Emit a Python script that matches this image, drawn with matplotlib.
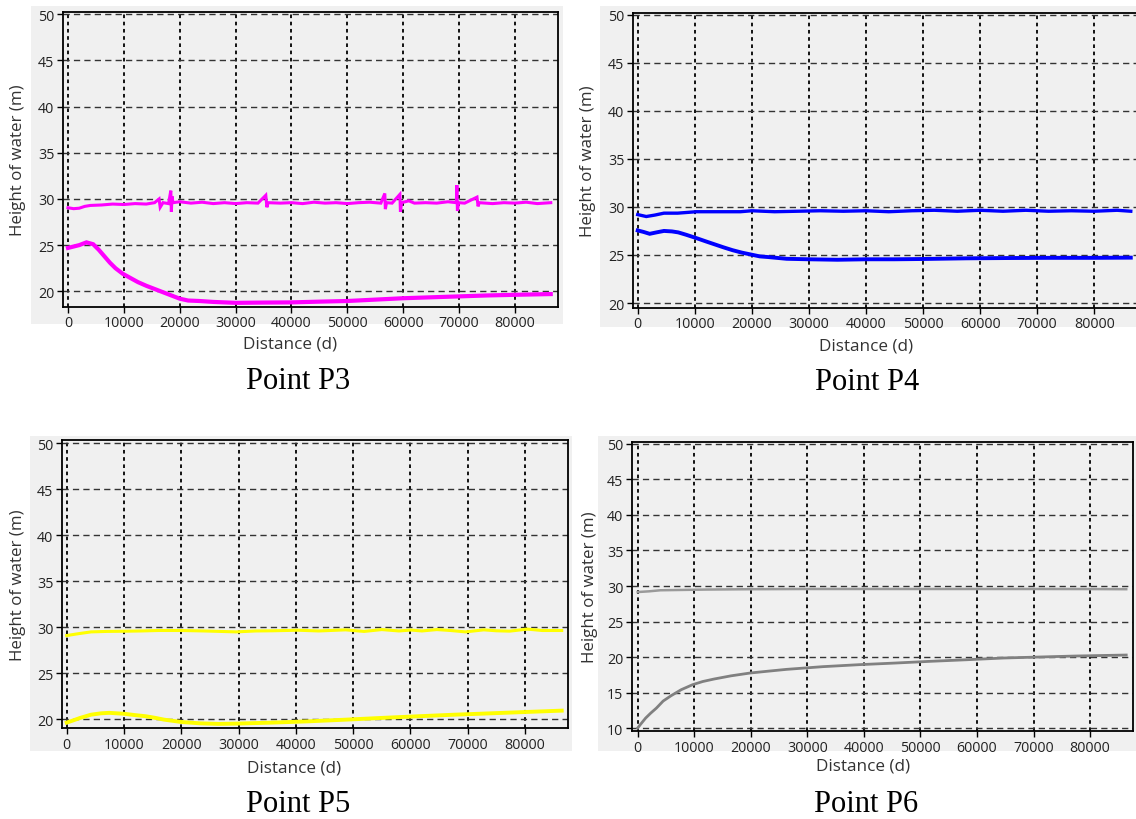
import matplotlib
matplotlib.use("Agg")
import matplotlib.pyplot as plt
from matplotlib.patches import Rectangle

W, H = 1136, 820
DPI = 100

# ---- water height records (distance, height in m) ----
p3_upper = [(0, 29.05), (1000, 28.95), (2000, 29.0), (3000, 29.2), (4000, 29.3),
            (6000, 29.35), (8000, 29.45), (10000, 29.4), (12000, 29.5), (14000, 29.45),
            (15500, 29.6), (16300, 30.0), (16500, 29.1), (17000, 29.6), (18000, 29.5),
            (18400, 30.9), (18500, 28.6), (18600, 30.3), (18800, 29.6), (20000, 29.7),
            (22000, 29.55), (24000, 29.65), (26000, 29.5), (28000, 29.6), (30000, 29.5),
            (32000, 29.6), (34000, 29.55), (35400, 30.4), (35600, 29.1), (35800, 29.6),
            (38000, 29.55), (40000, 29.6), (42000, 29.5), (44000, 29.65), (46000, 29.55),
            (48000, 29.6), (50000, 29.5), (52000, 29.6), (54000, 29.65), (56000, 29.55),
            (56700, 30.6), (56800, 28.9), (57000, 29.6), (58000, 29.55), (59400, 30.5),
            (59500, 28.6), (59700, 29.6), (61000, 29.8), (62000, 29.55), (64000, 29.6),
            (66000, 29.55), (68000, 29.7), (69500, 29.6), (69600, 31.5), (69700, 28.7),
            (69900, 29.6), (71000, 29.55), (73200, 30.2), (73400, 29.2), (73600, 29.6),
            (76000, 29.5), (78000, 29.6), (80000, 29.55), (82000, 29.65), (84000, 29.5),
            (86400, 29.6)]
p3_lower = [(0, 24.7), (1000, 24.85), (2000, 25.0), (3300, 25.3), (4500, 25.1),
            (5500, 24.5), (6500, 23.8), (7500, 23.1), (8500, 22.5), (9800, 21.9),
            (11000, 21.5), (12500, 21.0), (14000, 20.6), (15500, 20.25), (17000, 19.9),
            (18500, 19.55), (20000, 19.2), (21500, 19.0), (23500, 18.95), (26000, 18.85),
            (30000, 18.75), (35000, 18.78), (40000, 18.8), (45000, 18.88), (50000, 18.95),
            (55000, 19.1), (60000, 19.25), (65000, 19.35), (70000, 19.45), (75000, 19.55),
            (80000, 19.62), (86400, 19.7)]

p4_upper = [(0, 29.2), (1500, 29.0), (3000, 29.15), (4600, 29.35), (7000, 29.35),
            (10300, 29.5), (14000, 29.5), (18000, 29.5), (20000, 29.6), (24000, 29.5),
            (28000, 29.55), (32000, 29.6), (36000, 29.55), (40000, 29.6), (44000, 29.5),
            (48000, 29.6), (52000, 29.65), (56000, 29.55), (60000, 29.65), (64000, 29.55),
            (68000, 29.65), (72000, 29.55), (76000, 29.6), (80000, 29.55), (84000, 29.65),
            (86400, 29.55)]
p4_lower = [(0, 27.55), (1000, 27.4), (2100, 27.2), (3300, 27.35), (4600, 27.5),
            (6000, 27.45), (7100, 27.35), (8500, 27.1), (10300, 26.75), (12000, 26.4),
            (13500, 26.1), (15000, 25.8), (16600, 25.5), (18200, 25.25), (19800, 25.05),
            (21400, 24.85), (22900, 24.78), (26100, 24.6), (30000, 24.55), (35000, 24.5),
            (40000, 24.55), (45000, 24.55), (50000, 24.58), (57700, 24.65), (65000, 24.68),
            (72000, 24.7), (80000, 24.7), (86400, 24.72)]

p5_upper = [(0, 29.1), (2000, 29.3), (4250, 29.5), (7000, 29.55), (10000, 29.57),
            (13000, 29.6), (16000, 29.65), (20000, 29.65), (24000, 29.6), (29600, 29.5),
            (33000, 29.6), (36000, 29.62), (40400, 29.68), (44000, 29.6), (48700, 29.72),
            (51900, 29.55), (55000, 29.75), (58000, 29.6), (60100, 29.7), (62000, 29.6),
            (64600, 29.75), (67000, 29.65), (69600, 29.5), (72800, 29.72), (75000, 29.62),
            (77300, 29.58), (80400, 29.8), (83000, 29.65), (86400, 29.65)]
p5_lower = [(0, 19.64), (1000, 19.85), (2350, 20.15), (4250, 20.5), (6000, 20.65),
            (7400, 20.7), (10000, 20.6), (12000, 20.45), (13800, 20.33), (15500, 20.15),
            (17000, 19.96), (20100, 19.7), (23300, 19.56), (26500, 19.5), (29600, 19.53),
            (36000, 19.64), (42300, 19.78), (48700, 19.96), (55000, 20.15), (61400, 20.33),
            (67700, 20.5), (74100, 20.65), (80400, 20.8), (86400, 20.94)]

p6_upper = [(0, 29.15), (2000, 29.25), (4000, 29.4), (8000, 29.45), (12000, 29.5),
            (20000, 29.55), (30000, 29.58), (40000, 29.58), (50000, 29.58), (60000, 29.58),
            (70000, 29.58), (80000, 29.57), (86400, 29.55)]
p6_lower = [(0, 10.0), (450, 10.47), (1400, 11.4), (2300, 12.1), (3300, 12.8),
            (4500, 13.8), (5900, 14.55), (7700, 15.4), (9700, 16.1), (11500, 16.55),
            (13500, 16.9), (16500, 17.35), (19900, 17.75), (23000, 18.0), (26300, 18.26),
            (32700, 18.64), (39100, 18.92), (45500, 19.15), (51900, 19.4), (58300, 19.62),
            (64700, 19.86), (71000, 20.0), (77400, 20.14), (86400, 20.28)]

x_ticks = [0, 10000, 20000, 30000, 40000, 50000, 60000, 70000, 80000]
y_ticks_a = [20, 25, 30, 35, 40, 45, 50]
y_ticks_b = [10, 15, 20, 25, 30, 35, 40, 45, 50]
titles = ["Point P3", "Point P4", "Point P5", "Point P6"]

BG = "#f0f0f0"
UI_FONT = ["Open Sans", "DejaVu Sans"]
SERIF = ["Liberation Serif", "DejaVu Serif"]

fig = plt.figure(figsize=(W / DPI, H / DPI), dpi=DPI)
fig.patch.set_facecolor("white")


def px_rect(l, t, r, b):
    return [l / W, 1 - b / H, (r - l) / W, (b - t) / H]


def panel_bg(l, t, r, b):
    fig.patches.append(Rectangle((l / W, 1 - b / H), (r - l) / W, (b - t) / H,
                                 transform=fig.transFigure, facecolor=BG,
                                 edgecolor="none", zorder=-5))


def draw_panel(box, xlim, ylim, yticks, series, styles, xlabel_pos, ylabel_x, title_pos, title):
    ax = fig.add_axes(px_rect(*box))
    ax.set_facecolor(BG)
    for data, (col, lw) in zip(series, styles):
        xs = [p[0] for p in data]
        ys = [p[1] for p in data]
        ax.plot(xs, ys, color=col, lw=lw, solid_joinstyle="miter", zorder=3)
    ax.set_xlim(*xlim)
    ax.set_ylim(*ylim)
    ax.set_xticks(x_ticks)
    ax.set_yticks(yticks)
    ax.set_xticklabels([str(v) for v in x_ticks])
    ax.set_yticklabels([str(v) for v in yticks])
    for lab in ax.get_xticklabels() + ax.get_yticklabels():
        lab.set_fontfamily(UI_FONT)
        lab.set_fontsize(10.3)
        lab.set_color("#222222")
    ax.tick_params(axis="both", direction="out", length=4, width=1, color="black", pad=2)
    for v in x_ticks:
        ax.axvline(v, color="black", lw=1.3, ls=(0, (2, 2)), zorder=1)
    for v in yticks:
        ax.axhline(v, color="#333333", lw=1.0, ls=(0, (4.5, 3)), zorder=1)
    for sp in ax.spines.values():
        sp.set_color("black")
        sp.set_linewidth(1.3)
    cy = 1 - ((box[1] + box[3]) / 2) / H
    fig.text(ylabel_x / W, cy, "Height of water (m)", rotation=90, ha="center", va="center",
             fontsize=12.2, color="#333333", family=UI_FONT)
    fig.text(xlabel_pos[0] / W, 1 - xlabel_pos[1] / H, "Distance (d)", ha="center", va="center",
             fontsize=12.3, color="#333333", family=UI_FONT)
    fig.text(title_pos[0] / W, 1 - title_pos[1] / H, title, ha="center", va="center",
             fontsize=22, color="black", family=SERIF)
    return ax


# grey panel backgrounds
panel_bg(31, 7, 563, 325)
panel_bg(600, 7, 1136, 328)
panel_bg(30, 437, 572, 752)
panel_bg(598, 437, 1136, 752)

MAG = "#ff00ff"
BLUE = "#0000ff"
YEL = "#ffff00"

draw_panel((62.7, 13.3, 558, 308), (-950, 87700), (18.3, 50.22), y_ticks_a,
           [p3_upper, p3_lower], [(MAG, 2.2), (MAG, 3.0)],
           (290, 345), 18, (298, 382), titles[0])
draw_panel((632.7, 14, 1138.2, 309), (-876, 87700), (19.48, 50.18), y_ticks_a,
           [p4_upper, p4_lower], [(BLUE, 2.4), (BLUE, 2.8)],
           (866, 347), 588, (867, 383), titles[1])
draw_panel((61.7, 440.7, 568.3, 729.3), (-873, 87550), (19.02, 50.39), y_ticks_a,
           [p5_upper, p5_lower], [(YEL, 2.2), (YEL, 2.8)],
           (294, 769), 18, (298, 805), titles[2])
draw_panel((631.7, 442.7, 1133.3, 732.3), (-1061, 87650), (9.54, 50.32), y_ticks_b,
           [p6_upper, p6_lower], [("#9a9a9a", 1.8), ("#808080", 2.0)],
           (863, 767), 590, (866, 805), titles[3])

fig.savefig("out.png", dpi=DPI, facecolor="white")
